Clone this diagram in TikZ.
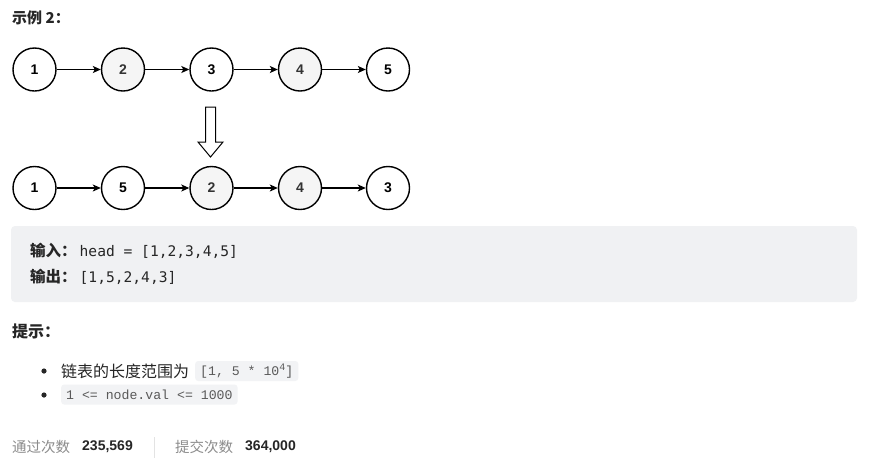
\documentclass[tikz,border=0pt]{standalone}
\usepackage{fontspec}
\setmainfont{Liberation Sans}
\setmonofont{DejaVu Sans Mono}
\newfontfamily\cjk{Noto Sans CJK SC}
\newfontfamily\codefont{Liberation Mono}
\usetikzlibrary{arrows.meta}
\definecolor{boxgray}{HTML}{F0F1F3}
\definecolor{codegray}{HTML}{F2F3F5}
\definecolor{nodegray}{HTML}{F5F5F5}
\definecolor{txt}{HTML}{262626}
\definecolor{muted}{HTML}{8C8C8C}
\definecolor{codetxt}{HTML}{595959}
\definecolor{sepgray}{HTML}{E3E3E3}
\begin{document}
\begin{tikzpicture}[x=1pt,y=-1pt,
  lnode/.style={circle,draw=black,line width=1.4pt,minimum size=43pt,inner sep=0pt,fill=white,
    font=\fontsize{14}{16}\selectfont\bfseries},
  gnode/.style={lnode,fill=nodegray,text=black!80},
  link/.style={-{Stealth[length=8pt,width=7pt,inset=2pt]},line width=1.1pt},
  txtnode/.style={anchor=west,inner sep=0pt,text=txt},
  codebox/.style={anchor=west,fill=codegray,rounded corners=3pt,inner xsep=5pt,inner ysep=0pt,
    minimum height=20pt,text=codetxt,font=\codefont\fontsize{13.2}{15}\selectfont}]
\useasboundingbox (0,0) rectangle (875,459);
\fill[white] (0,0) rectangle (875,459);

% title
\node[txtnode] (title) at (12,18) {\cjk\fontsize{15}{18}\selectfont\bfseries 示例 2：};

% top list
\node[lnode] (a1) at (34.5,69.5) {1};
\node[gnode] (a2) at (123,69.5) {2};
\node[lnode] (a3) at (211.5,69.5) {3};
\node[gnode] (a4) at (300,69.5) {4};
\node[lnode] (a5) at (388,69.5) {5};
\draw[link] (a1) -- (a2);
\draw[link] (a2) -- (a3);
\draw[link] (a3) -- (a4);
\draw[link] (a4) -- (a5);

% block arrow
\draw[line width=1pt,fill=white,line join=miter]
  (205.5,107) -- (215.5,107) -- (215.5,142) -- (223,142) -- (210.5,157)
  -- (198,142) -- (205.5,142) -- cycle;

% bottom list
\node[lnode] (b1) at (34.5,188) {1};
\node[lnode] (b2) at (123,188) {5};
\node[gnode] (b3) at (211.5,188) {2};
\node[gnode] (b4) at (300,188) {4};
\node[lnode] (b5) at (388,188) {3};
\draw[link] (b1) -- (b2);
\draw[link] (b2) -- (b3);
\draw[link] (b3) -- (b4);
\draw[link] (b4) -- (b5);

% example box
\fill[boxgray,rounded corners=4pt] (11,226) rectangle (857,302);
\node[txtnode] (inp) at (30,251) {{\cjk\fontsize{15.5}{18}\selectfont\bfseries 输入：}\hspace{3pt}{\ttfamily\fontsize{14.6}{17}\selectfont head = [1,2,3,4,5]}};
\node[txtnode] (outp) at (30,277) {{\cjk\fontsize{15.5}{18}\selectfont\bfseries 输出：}\hspace{3pt}{\ttfamily\fontsize{14.6}{17}\selectfont [1,5,2,4,3]}};

% hints
\node[txtnode] (hint) at (12,331) {\cjk\fontsize{16}{19}\selectfont\bfseries 提示：};
\fill[txt] (44,371) circle (2.6pt);
\node[txtnode] (h1) at (61,371) {\cjk\fontsize{16}{19}\selectfont 链表的长度范围为};
\node[codebox] (c1) at (195,371) {[1, 5 * 10\raisebox{4.5pt}{\fontsize{10}{12}\selectfont 4}]};
\fill[txt] (44,395) circle (2.6pt);
\node[codebox] (c2) at (61,394.5) {1 <= node.val <= 1000};

% stats
\node[txtnode,text=muted] (s1) at (12,447) {\cjk\fontsize{14.5}{17}\selectfont 通过次数};
\node[txtnode] (s2) at (82,447) {\fontsize{14}{17}\selectfont\bfseries 235,569};
\draw[sepgray,line width=1.2pt] (154.5,437) -- (154.5,458);
\node[txtnode,text=muted] (s3) at (175,447) {\cjk\fontsize{14.5}{17}\selectfont 提交次数};
\node[txtnode] (s4) at (245,447) {\fontsize{14}{17}\selectfont\bfseries 364,000};
\end{tikzpicture}
\end{document}
